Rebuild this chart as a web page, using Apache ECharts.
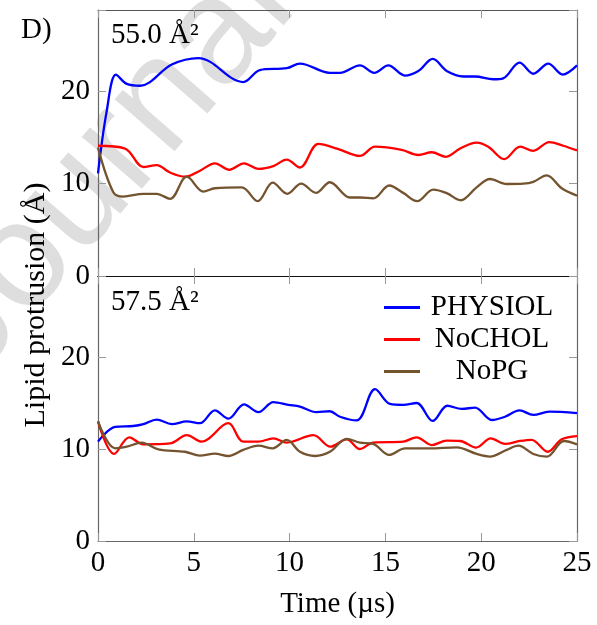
<!DOCTYPE html>
<html>
<head>
<meta charset="utf-8">
<script src="https://cdn.jsdelivr.net/npm/echarts@6.0.0/dist/echarts.min.js"></script>
<style>
  html, body { margin: 0; padding: 0; background: #fff; }
  #main { width: 597px; height: 625px; }
</style>
</head>
<body>
<div id="main"></div>
<script>
// series names and x ticks
var seriesNames = ['PHYSIOL', 'NoCHOL', 'NoPG'];
var xTicks = [0, 5, 10, 15, 20, 25];

// top panel: 55.0 A^2
var topPhysiolT = [0, 0.45, 0.94, 1.5, 2.2, 3.85, 5.24, 7.58, 8.45, 9.85, 10.54, 12.1, 12.63, 13.67, 14.42, 15.15, 16.02, 16.72, 17.47, 18.2, 19.07, 19.68, 20.63, 21.15, 22.0, 22.72, 23.5, 24.25, 25];
var topPhysiolV = [11.1, 17.8, 21.8, 20.8, 20.6, 22.9, 23.6, 21.0, 22.3, 22.5, 23.0, 22.0, 22.0, 22.8, 22.0, 22.8, 21.7, 22.2, 23.5, 22.2, 21.6, 21.6, 21.3, 21.4, 23.1, 21.9, 23.0, 21.8, 22.8];

var topNochelT = [0, 1.41, 2.37, 3.06, 3.76, 4.54, 5.32, 6.1, 6.85, 7.62, 8.37, 9.15, 9.85, 10.54, 11.5, 12.47, 13.67, 14.46, 15.85, 16.72, 17.42, 18.16, 18.9, 19.76, 20.37, 21.2, 22.03, 22.72, 23.55, 24.28, 25];
var topNochelV = [14.1, 13.8, 11.8, 12.0, 11.2, 10.75, 11.4, 12.2, 11.5, 12.2, 11.6, 11.9, 12.6, 11.75, 14.3, 13.8, 13.0, 14.0, 13.65, 13.1, 13.4, 12.9, 13.8, 14.45, 14.0, 12.65, 14.0, 13.55, 14.5, 14.1, 13.6];

var topNopgT = [0, 0.8, 1.32, 2.37, 3.06, 3.76, 4.63, 5.5, 6.1, 7.5, 8.33, 9.12, 9.88, 10.6, 11.38, 12.1, 13.15, 13.67, 14.37, 15.2, 15.93, 16.66, 17.5, 18.2, 18.93, 19.76, 20.46, 21.33, 22.2, 22.72, 23.42, 24.2, 25];
var topNopgV = [13.9, 9.07, 8.6, 8.9, 8.9, 8.35, 10.75, 9.14, 9.5, 9.6, 8.1, 10.1, 8.9, 10.0, 9.0, 10.15, 8.5, 8.5, 8.4, 9.8, 9.0, 8.1, 9.35, 8.97, 8.2, 9.6, 10.5, 9.96, 10.0, 10.2, 10.9, 9.5, 8.7];

// bottom panel: 57.5 A^2
var botPhysiolT = [0, 0.89, 1.84, 2.37, 3.06, 3.85, 4.63, 5.32, 6.1, 6.8, 7.62, 8.37, 9.15, 9.93, 10.54, 11.41, 12.1, 12.63, 13.5, 14.46, 15.24, 15.93, 16.63, 17.47, 18.23, 18.98, 19.68, 20.55, 21.24, 22.0, 22.72, 23.55, 25];
var botPhysiolV = [10.8, 12.4, 12.5, 12.7, 13.2, 12.7, 13.0, 12.8, 14.2, 13.3, 14.85, 14.0, 15.1, 14.8, 14.6, 14.0, 14.1, 13.5, 13.1, 16.5, 14.9, 14.8, 15.0, 13.05, 14.7, 14.35, 14.5, 13.15, 13.5, 14.2, 13.7, 14.05, 13.9];

var botNochelT = [0, 0.84, 1.63, 2.37, 3.76, 4.63, 5.41, 6.8, 7.58, 8.37, 9.15, 9.85, 11.24, 12.13, 12.98, 13.67, 14.37, 15.93, 16.63, 17.42, 18.2, 18.9, 19.73, 20.5, 21.24, 22.03, 22.63, 23.47, 24.2, 25];
var botNochelV = [13.0, 9.46, 11.27, 10.5, 10.6, 11.5, 10.8, 12.8, 10.8, 10.8, 11.15, 10.7, 11.5, 10.25, 11.05, 10.0, 10.7, 10.8, 11.27, 10.43, 10.9, 10.87, 10.15, 11.15, 10.55, 10.87, 11.0, 9.7, 11.05, 11.4];

var botNopgT = [0, 0.89, 1.5, 2.28, 3.15, 4.54, 5.32, 6.1, 6.8, 7.58, 8.37, 9.12, 9.85, 10.54, 11.33, 12.1, 12.98, 13.67, 14.37, 15.2, 16.02, 17.32, 18.72, 19.76, 20.46, 21.33, 21.94, 22.72, 23.42, 24.32, 25];
var botNopgV = [13.0, 10.07, 10.25, 10.7, 9.96, 9.7, 9.27, 9.5, 9.24, 9.9, 10.36, 10.07, 10.98, 9.7, 9.24, 9.7, 11.1, 10.7, 10.55, 9.35, 10.07, 10.07, 10.18, 9.46, 9.17, 9.9, 10.36, 9.46, 9.17, 10.87, 10.5];

var colors = ['#0000ff', '#ff0000', '#74532f'];
var serif = '"Liberation Serif", "Times New Roman", serif';

function pairs(t, v) {
    return t.map(function (x, i) { return [x, v[i]]; });
}

var myChart = echarts.init(document.getElementById('main'));

function xAx(grid, pos, labels, lineColor) {
    return {
        type: 'value', gridIndex: grid, position: pos,
        min: xTicks[0], max: xTicks[xTicks.length - 1], interval: 5,
        axisLine: { onZero: false, lineStyle: { color: lineColor, width: 1.2 } },
        axisTick: { inside: true, length: 8, lineStyle: { color: '#999' } },
        axisLabel: { show: labels, margin: 8, color: '#000', fontFamily: serif, fontSize: 29 },
        splitLine: { show: false }
    };
}
function yAx(grid, pos, labels) {
    return {
        type: 'value', gridIndex: grid, position: pos,
        min: 0, max: 28.8, interval: 10,
        axisLine: { show: true, onZero: false, lineStyle: { color: '#666', width: 1.2 } },
        axisTick: { inside: true, length: 8, lineStyle: { color: '#999' } },
        axisLabel: {
            show: labels, margin: 8, color: '#000', fontFamily: serif, fontSize: 29,
            formatter: function (v) { return v % 10 === 0 ? String(v) : ''; }
        },
        splitLine: { show: false }
    };
}

var xAxes = [
    xAx(0, 'bottom', false, '#111'),
    xAx(0, 'top', false, '#555'),
    xAx(1, 'bottom', true, '#666'),
    xAx(1, 'top', false, '#111')
];
xAxes[2].name = 'Time (µs)';
xAxes[2].nameLocation = 'middle';
xAxes[2].nameGap = 49;
xAxes[2].nameTextStyle = { color: '#000', fontFamily: serif, fontSize: 29 };

function line(name, idx, axis, t, v) {
    return {
        name: name, type: 'line', xAxisIndex: axis, yAxisIndex: axis,
        data: pairs(t, v), smooth: 0.35, showSymbol: false, symbol: 'none',
        lineStyle: { color: colors[idx], width: 2.3 },
        itemStyle: { color: colors[idx] },
        z: 3
    };
}

var option = {
    animation: false,
    grid: [
        { left: 98, top: 10, width: 479, height: 266 },
        { left: 98, top: 276, width: 479, height: 265 }
    ],
    xAxis: xAxes,
    yAxis: [yAx(0, 'left', true), yAx(0, 'right', false), yAx(1, 'left', true), yAx(1, 'right', false)],
    legend: {
        data: seriesNames,
        orient: 'vertical',
        left: 379, top: 288,
        itemWidth: 36, itemHeight: 3, itemGap: 3,
        icon: 'rect',
        formatter: '{c|{name}}',
        textStyle: {
            color: '#000', fontFamily: serif, fontSize: 29,
            rich: { c: { width: 134, align: 'center', fontFamily: serif, fontSize: 29, lineHeight: 32 } }
        }
    },
    graphic: [
        {
            type: 'text', x: -55, y: 352, rotation: 49 * Math.PI / 180, z: -10, silent: true,
            style: { text: 'Journal', font: '150px "Liberation Sans", Arial, sans-serif', fill: '#dedede', align: 'left', verticalAlign: 'middle' }
        },
        { type: 'text', x: 21, y: 30, style: { text: 'D)', font: '29px ' + serif, fill: '#000', verticalAlign: 'middle' } },
        { type: 'text', x: 111, y: 35, style: { text: '55.0 Å²', font: '29px ' + serif, fill: '#000', verticalAlign: 'middle' } },
        { type: 'text', x: 111, y: 302, style: { text: '57.5 Å²', font: '29px ' + serif, fill: '#000', verticalAlign: 'middle' } },
        {
            type: 'text', x: 36, y: 305, rotation: Math.PI / 2,
            style: { text: 'Lipid protrusion (Å)', font: '30px ' + serif, fill: '#000', align: 'center', verticalAlign: 'middle' }
        }
    ],
    series: [
        line(seriesNames[0], 0, 0, topPhysiolT, topPhysiolV),
        line(seriesNames[1], 1, 0, topNochelT, topNochelV),
        line(seriesNames[2], 2, 0, topNopgT, topNopgV),
        line(seriesNames[0], 0, 2, botPhysiolT, botPhysiolV),
        line(seriesNames[1], 1, 2, botNochelT, botNochelV),
        line(seriesNames[2], 2, 2, botNopgT, botNopgV)
    ]
};

myChart.setOption(option);
</script>
</body>
</html>
